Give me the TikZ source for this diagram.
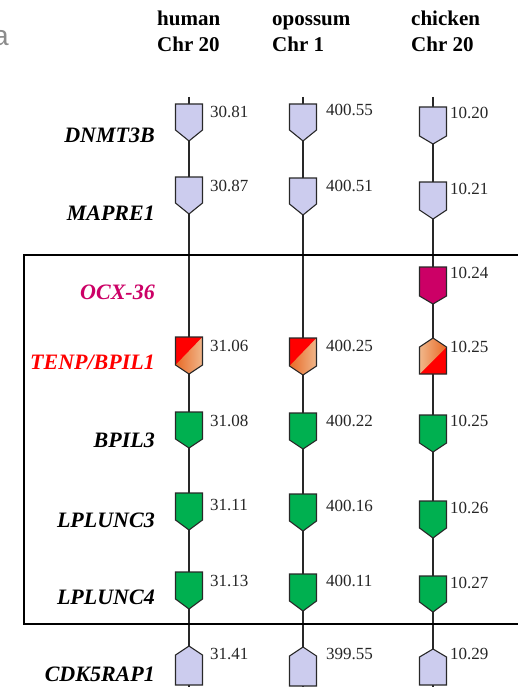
\documentclass[tikz,border=0pt]{standalone}
\usepackage{fontspec}
\setmainfont{Liberation Serif}
\newfontfamily\grsans{Liberation Sans}
\definecolor{lav}{RGB}{204,204,238}
\definecolor{grn}{RGB}{0,176,80}
\definecolor{mag}{RGB}{204,0,102}
\definecolor{orgA}{RGB}{232,104,36}
\definecolor{orgB}{RGB}{240,184,140}
\definecolor{outl}{RGB}{40,40,40}
\newcommand\DGene[5]{% x, top, side, tip, fill
  \draw[genebox, fill=#5] (#1-13.5,#2) -- (#1+13.5,#2) -- (#1+13.5,#2+#3) -- (#1,#2+#3+#4) -- (#1-13.5,#2+#3) -- cycle;}
\newcommand\UGene[5]{% x, tip, tipdepth, side, fill
  \draw[genebox, fill=#5] (#1,#2) -- (#1+13.5,#2+#3) -- (#1+13.5,#2+#3+#4) -- (#1-13.5,#2+#3+#4) -- (#1-13.5,#2+#3) -- cycle;}
\newcommand\DGrad[4]{% x, top, side, tip
  \begin{scope}
    \clip (#1-13.5,#2) -- (#1+13.5,#2) -- (#1+13.5,#2+#3) -- (#1,#2+#3+#4) -- (#1-13.5,#2+#3) -- cycle;
    \fill[red] (#1-14,#2-1) rectangle (#1+14,#2+#3+#4+1);
    \shade[left color=orgA, right color=orgB] (#1-13.5,#2+#3) -- (#1+13.5,#2) -- (#1+14,#2+#3+#4+1) -- (#1-14,#2+#3+#4+1) -- cycle;
  \end{scope}
  \draw[genebox] (#1-13.5,#2) -- (#1+13.5,#2) -- (#1+13.5,#2+#3) -- (#1,#2+#3+#4) -- (#1-13.5,#2+#3) -- cycle;}
\newcommand\UGrad[4]{% x, tip, tipdepth, side
  \begin{scope}
    \clip (#1,#2) -- (#1+13.5,#2+#3) -- (#1+13.5,#2+#3+#4) -- (#1-13.5,#2+#3+#4) -- (#1-13.5,#2+#3) -- cycle;
    \fill[red] (#1-14,#2-1) rectangle (#1+14,#2+#3+#4+1);
    \shade[left color=orgB, right color=orgA] (#1-13.5,#2+#3+#4) -- (#1+13.5,#2+#3) -- (#1+14,#2-1) -- (#1-14,#2-1) -- cycle;
  \end{scope}
  \draw[genebox] (#1,#2) -- (#1+13.5,#2+#3) -- (#1+13.5,#2+#3+#4) -- (#1-13.5,#2+#3+#4) -- (#1-13.5,#2+#3) -- cycle;}
\begin{document}
\begin{tikzpicture}[x=1pt,y=-1pt,
  genebox/.style={draw=outl, line width=1.1pt, line join=miter},
  chrline/.style={draw=outl, line width=1.2pt},
  numlab/.style={font=\fontsize{17}{17}\selectfont, text=black!85, inner sep=0, anchor=base west},
  genelab/.style={font=\fontsize{22}{22}\selectfont\bfseries\itshape, inner sep=0, anchor=base east},
  headlab/.style={font=\fontsize{21}{21}\selectfont\bfseries, inner sep=0, anchor=base west}]
\useasboundingbox[fill=white] (0,0) rectangle (518,687);
% partial panel letter
\node[font=\grsans\fontsize{28}{28}\selectfont, text=black!45, inner sep=0, anchor=base east] (pa) at (9,46) {a};
% headers
\node[headlab] (h1) at (157,26) {human};
\node[headlab] (h2) at (157,52) {Chr 20};
\node[headlab] (o1) at (272,26) {opossum};
\node[headlab] (o2) at (272,52) {Chr 1};
\node[headlab] (c1) at (411,26) {chicken};
\node[headlab] (c2) at (411,52) {Chr 20};
% chromosome lines
\coordinate (htop) at (189,97); \coordinate (hbot) at (189,700);
\coordinate (otop) at (303,97); \coordinate (obot) at (303,700);
\coordinate (ctop) at (433,97); \coordinate (cbot) at (433,700);
\draw[chrline] (htop) -- (hbot);
\draw[chrline] (otop) -- (obot);
\draw[chrline] (ctop) -- (cbot);
% frame
\coordinate (fr1) at (24,255); \coordinate (fr2) at (540,624);
\draw[line width=1.5pt] (fr1) rectangle (fr2);
% gene names
\node[genelab] (gDN) at (155,143) {DNMT3B};
\node[genelab] (gMA) at (155,220) {MAPRE1};
\node[genelab, text=mag] (gOC) at (155,299) {OCX-36};
\node[genelab, text=red] (gTE) at (155,369) {TENP/BPIL1};
\node[genelab] (gB3) at (155,447) {BPIL3};
\node[genelab] (gL3) at (155,527) {LPLUNC3};
\node[genelab] (gL4) at (155,604) {LPLUNC4};
\node[genelab] (gCD) at (155,681) {CDK5RAP1};
% human
\DGene{189}{104}{26}{11}{lav}
\DGene{189}{177}{26}{11}{lav}
\DGrad{189}{337}{28}{9}
\DGene{189}{412}{27}{9}{grn}
\DGene{189}{493}{27}{10}{grn}
\DGene{189}{572}{27}{10}{grn}
\UGene{189}{646}{9}{30}{lav}
\node[numlab] (n1) at (210,118) {30.81};
\node[numlab] (n2) at (210,191) {30.87};
\node[numlab] (n3) at (210,351) {31.06};
\node[numlab] (n4) at (210,426) {31.08};
\node[numlab] (n5) at (210,510) {31.11};
\node[numlab] (n6) at (210,586) {31.13};
\node[numlab] (n7) at (210,659) {31.41};
% opossum
\DGene{303}{104}{26}{11}{lav}
\DGene{303}{178}{26}{11}{lav}
\DGrad{303}{338}{28}{9}
\DGene{303}{413}{27}{9}{grn}
\DGene{303}{494}{27}{10}{grn}
\DGene{303}{574}{27}{10}{grn}
\UGene{303}{647}{9}{30}{lav}
\node[numlab] (m1) at (326,116) {400.55};
\node[numlab] (m2) at (326,191) {400.51};
\node[numlab] (m3) at (326,351) {400.25};
\node[numlab] (m4) at (326,426) {400.22};
\node[numlab] (m5) at (326,511) {400.16};
\node[numlab] (m6) at (326,586) {400.11};
\node[numlab] (m7) at (326,659) {399.55};
% chicken
\DGene{433}{107}{29}{8}{lav}
\DGene{433}{182}{28}{9}{lav}
\DGene{433}{267}{29}{8}{mag}
\UGrad{433}{338}{9}{27}
\DGene{433}{415}{28}{9}{grn}
\DGene{433}{501}{27}{10}{grn}
\DGene{433}{576}{26}{10}{grn}
\UGene{433}{649}{8}{28}{lav}
\node[numlab] (k1) at (450,119) {10.20};
\node[numlab] (k2) at (450,194) {10.21};
\node[numlab] (k3) at (450,278) {10.24};
\node[numlab] (k4) at (450,352) {10.25};
\node[numlab] (k5) at (450,426) {10.25};
\node[numlab] (k6) at (450,513) {10.26};
\node[numlab] (k7) at (450,588) {10.27};
\node[numlab] (k8) at (450,659) {10.29};
\end{tikzpicture}
\end{document}
